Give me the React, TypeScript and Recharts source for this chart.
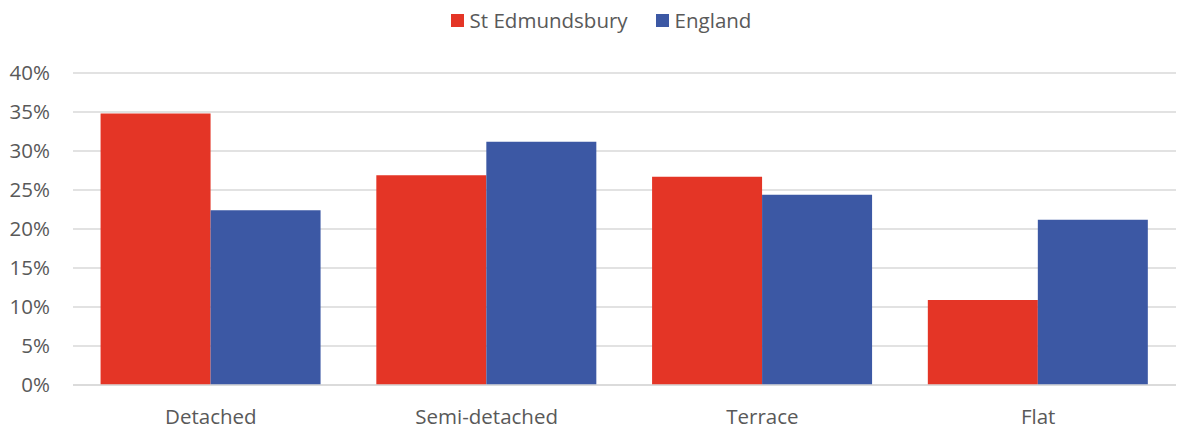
import { BarChart, Bar, XAxis, YAxis, CartesianGrid, Legend } from "recharts";

const categories = ["Detached", "Semi-detached", "Terrace", "Flat"];
const stEdmundsbury = [34.8, 26.9, 26.7, 10.9];
const england = [22.4, 31.2, 24.4, 21.2];
const yTicks = [0, 5, 10, 15, 20, 25, 30, 35, 40];

const seriesNames = ["St Edmundsbury", "England"];
const colors = ["#E43526", "#3C58A4"];

const data = categories.map((name, i) => ({
  name,
  stEdmundsbury: stEdmundsbury[i],
  england: england[i],
}));

const FONT = "'Open Sans', sans-serif";
const TEXT = "#595959";

const LegendContent = () => (
  <div style={{ display: "flex", justifyContent: "center", alignItems: "center", height: 40, paddingLeft: 26, fontFamily: FONT, fontSize: 20.5, color: TEXT }}>
    {seriesNames.map((n, i) => (
      <div key={n} style={{ display: "flex", alignItems: "center", marginLeft: i ? 28 : 0 }}>
        <span style={{ width: 13, height: 13, background: colors[i], marginRight: 6, display: "inline-block" }} />
        <span>{n}</span>
      </div>
    ))}
  </div>
);

export default function App() {
  return (
    <div style={{ position: "absolute", left: 0, top: 0, background: "#fff" }}>
      <BarChart
        width={1178}
        height={430}
        data={data}
        margin={{ top: 33, right: 2, bottom: 0, left: 0 }}
        barCategoryGap="10%"
        barGap={0}
      >
        <CartesianGrid vertical={false} stroke="#D9D9D9" strokeWidth={1.5} />
        <XAxis
          dataKey="name"
          height={45}
          tickLine={false}
          axisLine={{ stroke: "#D9D9D9", strokeWidth: 1.5 }}
          tick={{ fill: TEXT, fontSize: 20.5, fontFamily: FONT }}
          tickMargin={18}
        />
        <YAxis
          domain={[0, 40]}
          ticks={yTicks}
          width={73}
          axisLine={false}
          tickLine={false}
          tickSize={0}
          tickMargin={23}
          tickFormatter={(v) => `${v}%`}
          tick={{ fill: TEXT, fontSize: 20.5, fontFamily: FONT }}
        />
        <Legend verticalAlign="top" content={<LegendContent />} wrapperStyle={{ top: 0 }} />
        <Bar dataKey="stEdmundsbury" name={seriesNames[0]} fill={colors[0]} isAnimationActive={false} />
        <Bar dataKey="england" name={seriesNames[1]} fill={colors[1]} isAnimationActive={false} />
      </BarChart>
    </div>
  );
}
